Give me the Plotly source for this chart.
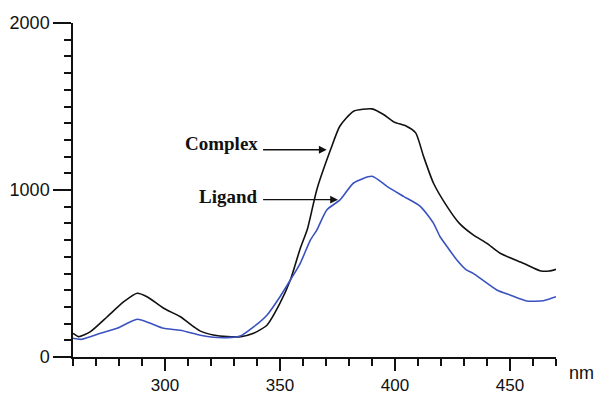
import plotly.graph_objects as go

# Complex (black) spectrum
complex_nm = [260, 262.5, 267.6, 274.9, 282.1, 287.9, 292.2, 299.4, 306.7, 312.5, 315.4,
              321, 327, 333, 338.5, 344.4, 350, 354.5, 358.8, 362, 366, 372, 376, 382,
              390, 395, 399.4, 405, 409, 412.4, 416.7, 422.6, 428, 434, 440, 445.7,
              455.8, 463, 467, 470]
complex_val = [142, 122, 152, 241, 331, 382, 361, 292, 241, 181, 155,
               132, 122, 122, 142, 192, 322, 461, 650, 770, 1002, 1242, 1382, 1472,
               1486, 1452, 1408, 1382, 1342, 1202, 1042, 902, 800, 731, 680, 621,
               561, 517, 515, 525]

# Ligand (blue) spectrum
ligand_nm = [260, 263.8, 272, 279.2, 287.9, 293.7, 299.4, 306.7, 315.4, 321, 327, 332.8,
             338.5, 344.4, 350, 354.5, 358.8, 363.2, 366, 370.4, 376.2, 382, 390, 396.5,
             403.7, 411, 416.7, 419.6, 422.6, 426.9, 431, 434, 444.3, 450, 457.3, 464.5, 470]
ligand_val = [112, 106, 142, 172, 226, 202, 172, 160, 130, 118, 116, 126,
              180, 252, 361, 461, 561, 700, 760, 882, 942, 1042, 1082, 1022,
              962, 902, 802, 720, 662, 581, 522, 501, 401, 371, 335, 337, 361]

fig = go.Figure()
fig.add_trace(go.Scatter(x=complex_nm, y=complex_val, mode="lines",
                         line=dict(color="#111111", width=1.6, shape="spline", smoothing=0.6),
                         name="Complex", cliponaxis=False))
fig.add_trace(go.Scatter(x=ligand_nm, y=ligand_val, mode="lines",
                         line=dict(color="#3a52c0", width=1.6, shape="spline", smoothing=0.6),
                         name="Ligand", cliponaxis=False))

tick_font = dict(family="Liberation Sans, Arial, sans-serif", size=18, color="#111111")
xtick_font = dict(family="Liberation Sans, Arial, sans-serif", size=17, color="#111111")
label_font = dict(family="Liberation Serif, Times New Roman, serif", size=19, color="#111111")

fig.update_layout(
    width=598, height=395,
    margin=dict(l=73, r=42, t=23, b=38),
    paper_bgcolor="white", plot_bgcolor="white",
    showlegend=False,
    xaxis=dict(range=[260, 470], showgrid=False, zeroline=False, automargin=False,
               showline=True, linecolor="#111111", linewidth=1.5,
               tickmode="linear", tick0=300, dtick=50, ticks="outside", ticklen=12,
               tickwidth=1.5, tickcolor="#111111", tickfont=xtick_font,
               minor=dict(dtick=10, tick0=260, ticks="outside", ticklen=7,
                          tickwidth=1.5, tickcolor="#111111", showgrid=False)),
    yaxis=dict(range=[0, 2000], showgrid=False, zeroline=False, automargin=False,
               showline=True, linecolor="#111111", linewidth=1.5,
               tickmode="linear", tick0=0, dtick=1000, ticks="outside", ticklen=18,
               tickwidth=1.5, tickcolor="#111111", tickfont=tick_font,
               minor=dict(dtick=100, tick0=0, ticks="outside", ticklen=7,
                          tickwidth=1.5, tickcolor="#111111", showgrid=False)),
)

fig.add_annotation(x=324.5, y=1281, xref="x", yref="y", text="<b>Complex</b>",
                   showarrow=False, font=label_font)
fig.add_annotation(x=370.3, y=1241, ax=342.0, ay=1241, xref="x", yref="y",
                   axref="x", ayref="y", text="", showarrow=True,
                   arrowhead=2, arrowsize=1.2, arrowwidth=1.3, arrowcolor="#111111")
fig.add_annotation(x=327.7, y=962, xref="x", yref="y", text="<b>Ligand</b>",
                   showarrow=False, font=label_font)
fig.add_annotation(x=375.2, y=942, ax=342.0, ay=942, xref="x", yref="y",
                   axref="x", ayref="y", text="", showarrow=True,
                   arrowhead=2, arrowsize=1.2, arrowwidth=1.3, arrowcolor="#111111")
fig.add_annotation(x=1.052, y=-0.047, xref="paper", yref="paper", text="nm",
                   showarrow=False, font=tick_font, xanchor="center", yanchor="middle")

fig.write_html("out.html")
